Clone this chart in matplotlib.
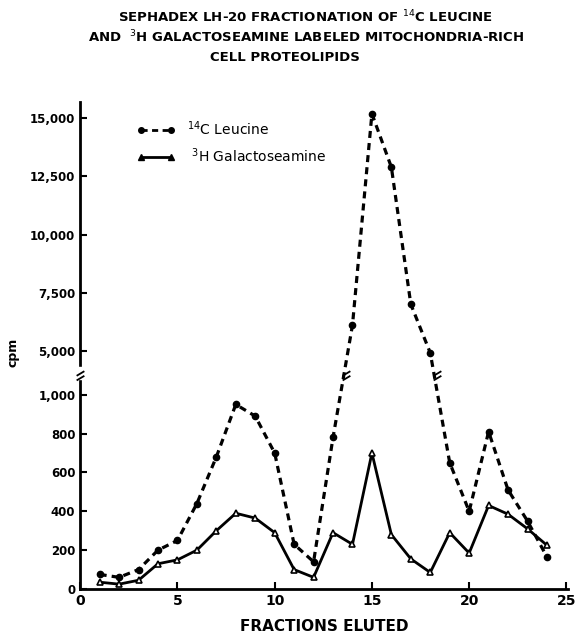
import numpy as np
import matplotlib
matplotlib.use("Agg")
import matplotlib.pyplot as plt
from matplotlib.lines import Line2D
from matplotlib.path import Path

plt.rcParams['font.family'] = ['DejaVu Sans']

fractions = list(range(1, 25))
leucine = [75, 60, 100, 200, 250, 440, 680, 950, 890, 700, 230, 140,
           780, 6100, 15200, 12900, 7000, 4800, 650, 400, 810, 510, 350, 165]
galacto = [35, 25, 45, 130, 150, 200, 300, 390, 365, 290, 100, 60,
           290, 230, 700, 280, 155, 85, 290, 185, 430, 385, 310, 225]

ytick_vals = [0, 200, 400, 600, 800, 1000, 5000, 7500, 10000, 12500, 15000]
ytick_labels = ["0", "200", "400", "600", "800", "1,000",
                "5,000", "7,500", "10,000", "12,500", "15,000"]
xtick_vals = [0, 5, 10, 15, 20, 25]

# broken axis: piecewise linear scale (0-1000 stretched, 1000-5000 squeezed)
_ys = [-1000, 0, 1000, 5000, 15000, 20000]
_ps = [-194, 0, 194, 238, 470, 586]


def fwd(y):
    return np.interp(y, _ys, _ps)


def inv(p):
    return np.interp(p, _ps, _ys)


fig = plt.figure(figsize=(5.77, 6.44), dpi=100)
ax = fig.add_axes([0.139, 0.0854, 0.846, 0.756])
ax.set_yscale('function', functions=(fwd, inv))

ax.plot(fractions, leucine, color='black', ls=(0, (2.2, 1.6)), lw=2.3,
        marker='o', ms=4.5, mfc='black', mec='black')
ax.plot(fractions, galacto, color='black', ls='-', lw=2.0,
        marker='^', ms=5, mfc='white', mec='black', mew=1.2)

ax.set_xlim(0, 25.1)
ax.set_ylim(0, 15700)
ax.set_xticks(xtick_vals)
ax.set_xticklabels([str(v) for v in xtick_vals], fontsize=10, fontweight='bold')
ax.set_yticks(ytick_vals)
ax.set_yticklabels(ytick_labels, fontsize=8.5, fontweight='bold')
ax.tick_params(direction='in', length=5, width=1.5)
for s in ['top', 'right']:
    ax.spines[s].set_visible(False)
for s in ['left', 'bottom']:
    ax.spines[s].set_linewidth(2)

# break marks on the y axis and on the leucine curve
slash = Path([(-1, -0.6), (1, 0.6), (-1, -1.8), (1, -0.6)],
             [Path.MOVETO, Path.LINETO, Path.MOVETO, Path.LINETO])
ax.plot([0], [3000], marker='s', ms=9, mfc='white', mec='white',
        clip_on=False, zorder=5)
ax.plot([0], [3000], marker=slash, ms=10, color='black', mew=1.3,
        clip_on=False, zorder=6)
ax.plot([13.65, 18.35], [3000, 3000], ls='none', marker=slash, ms=10,
        color='black', mew=1.3, zorder=6)

ax.set_xlabel("FRACTIONS ELUTED", fontsize=11, fontweight='bold', labelpad=8)
ax.set_ylabel("cpm", fontsize=9, fontweight='bold')
ax.yaxis.set_label_coords(-0.125, 0.487)

handles = [
    Line2D([], [], color='black', ls=(0, (2.2, 1.6)), lw=2, marker='o', ms=4),
    Line2D([], [], color='black', ls='-', lw=2, marker='^', ms=5),
]
ax.legend(handles, ["$^{14}$C Leucine", " $^{3}$H Galactoseamine"],
          loc='upper left', bbox_to_anchor=(0.09, 0.99), frameon=False,
          numpoints=2, handlelength=2.8, fontsize=10, labelspacing=0.6)

fig.text(0.53, 0.974, "SEPHADEX LH-20 FRACTIONATION OF $^{14}$C LEUCINE",
         ha='center', va='center', fontsize=9.5, fontweight='bold')
fig.text(0.53, 0.942, "AND  $^{3}$H GALACTOSEAMINE LABELED MITOCHONDRIA-RICH",
         ha='center', va='center', fontsize=9.5, fontweight='bold')
fig.text(0.493, 0.911, "CELL PROTEOLIPIDS",
         ha='center', va='center', fontsize=9.5, fontweight='bold')

fig.savefig("out.png", dpi=100)
